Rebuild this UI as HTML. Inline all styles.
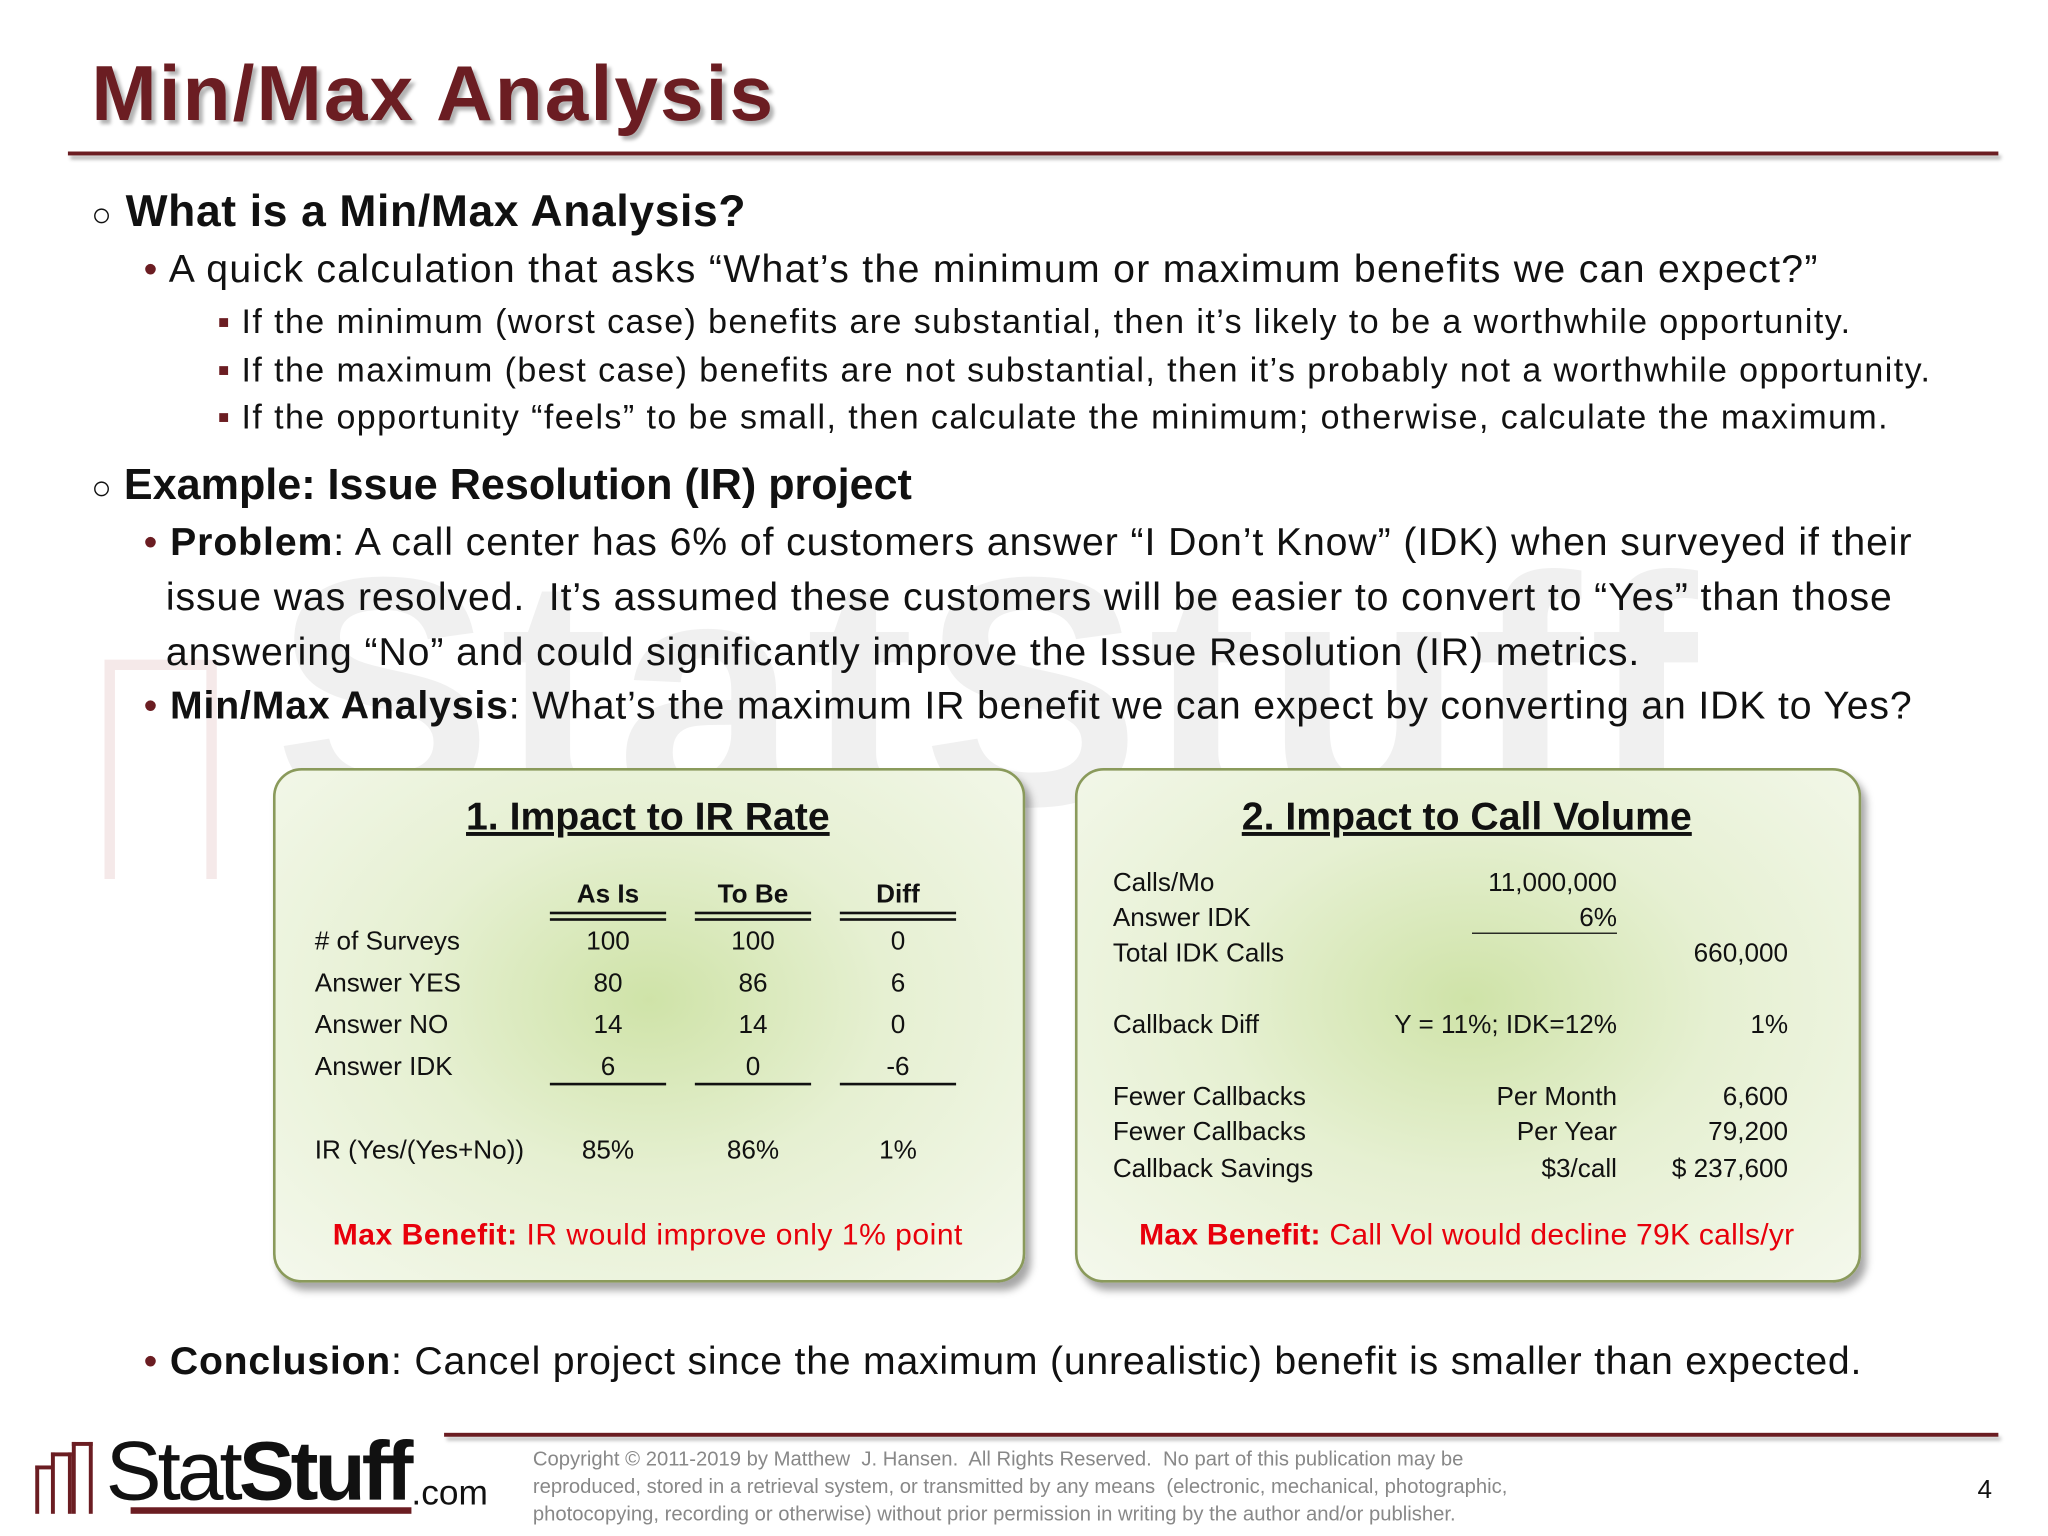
<!DOCTYPE html>
<html><head><meta charset="utf-8"><style>
html,body{margin:0;padding:0;background:#fff;width:2048px;height:1536px;overflow:hidden}
#s{position:absolute;left:0;top:0;width:1568px;height:1176px;transform:scale(1.306122);transform-origin:0 0;font-family:"Liberation Sans",sans-serif;color:#111}
.a{position:absolute;white-space:nowrap;line-height:1}
.box{position:absolute;border:2px solid #8a9a5b;border-radius:22px;background:radial-gradient(ellipse at 50% 45%,#cfe3a8 0%,#e6f0d2 45%,#f4f8ec 100%);box-shadow:4px 6px 6px rgba(0,0,0,.35)}
.t{font-size:20px}
.c{text-align:center}
.r{text-align:right}
.hl{position:absolute;height:0;border-top:2px solid #111}
.dl{position:absolute;height:3px;border-top:2px solid #111;border-bottom:2px solid #111}
.sb{font-size:26px;letter-spacing:1.1px}
.bl{font-size:30px;letter-spacing:1px}
.bl2{font-size:30px;letter-spacing:0.7px}
</style></head><body>
<div id="s">
<div class="a" style="left:210px;top:405px;font-size:250px;font-weight:bold;color:rgba(120,120,120,.11);letter-spacing:6px">StatStuff</div>
<div style="position:absolute;left:80px;top:505px;width:70px;height:160px;border:8px solid rgba(160,40,40,.10);border-bottom:none"></div>
<div class="a" style="left:70px;top:42px;font-size:60px;font-weight:bold;color:#6b1d22;letter-spacing:1.6px;text-shadow:3px 3px 3px rgba(0,0,0,.3)">Min/Max Analysis</div>
<div style="position:absolute;left:52px;top:116px;width:1478px;height:3px;background:#6b1d22;box-shadow:2px 3px 3px rgba(0,0,0,.3)"></div>

<div class="a" style="left:70px;top:145px;font-size:34px;font-weight:bold;letter-spacing:0.5px"><span style="font-weight:normal;font-size:26px">○</span> What is a Min/Max Analysis?</div>
<div class="a bl" style="left:110px;top:192px"><span style="color:#6b1d22">•</span> A quick calculation that asks “What’s the minimum or maximum benefits we can expect?”</div>
<div class="a sb" style="left:167px;top:233px"><span style="color:#6b1d22;font-size:14px;vertical-align:4px">■</span> If the minimum (worst case) benefits are substantial, then it’s likely to be a worthwhile opportunity.</div>
<div class="a sb" style="left:167px;top:270px"><span style="color:#6b1d22;font-size:14px;vertical-align:4px">■</span> If the maximum (best case) benefits are not substantial, then it’s probably not a worthwhile opportunity.</div>
<div class="a sb" style="left:167px;top:306px"><span style="color:#6b1d22;font-size:14px;vertical-align:4px">■</span> If the opportunity “feels” to be small, then calculate the minimum; otherwise, calculate the maximum.</div>

<div class="a" style="left:70px;top:354px;font-size:33px;font-weight:bold"><span style="font-weight:normal;font-size:26px">○</span> Example: Issue Resolution (IR) project</div>
<div class="a bl2" style="left:110px;top:395px;line-height:42px;white-space:nowrap"><span style="color:#6b1d22">•</span> <b>Problem</b>: A call center has 6% of customers answer “I Don’t Know” (IDK) when surveyed if their<br><span style="padding-left:17px">issue was resolved.&nbsp; It’s assumed these customers will be easier to convert to “Yes” than those</span><br><span style="padding-left:17px">answering “No” and could significantly improve the Issue Resolution (IR) metrics.</span></div>
<div class="a bl2" style="left:110px;top:526px;letter-spacing:0.65px"><span style="color:#6b1d22">•</span> <b>Min/Max Analysis</b>: What’s the maximum IR benefit we can expect by converting an IDK to Yes?</div>

<div class="box" style="left:209px;top:588px;width:572px;height:390px"></div>
<div class="a c" style="left:209px;top:611px;width:574px;font-size:30px;font-weight:bold;text-decoration:underline">1. Impact to IR Rate</div>
<div class="a c t" style="left:421px;top:675px;width:89px;font-weight:bold">As Is</div>
<div class="a c t" style="left:532px;top:675px;width:89px;font-weight:bold">To Be</div>
<div class="a c t" style="left:643px;top:675px;width:89px;font-weight:bold">Diff</div>
<div class="dl" style="left:421px;top:698px;width:89px"></div>
<div class="dl" style="left:532px;top:698px;width:89px"></div>
<div class="dl" style="left:643px;top:698px;width:89px"></div>

<div class="a t" style="left:241px;top:711px">#&nbsp;of Surveys</div>
<div class="a t" style="left:241px;top:743px">Answer YES</div>
<div class="a t" style="left:241px;top:775px">Answer NO</div>
<div class="a t" style="left:241px;top:807px">Answer IDK</div>
<div class="a t" style="left:241px;top:871px">IR (Yes/(Yes+No))</div>

<div class="a c t" style="left:421px;top:711px;width:89px">100</div>
<div class="a c t" style="left:532px;top:711px;width:89px">100</div>
<div class="a c t" style="left:643px;top:711px;width:89px">0</div>
<div class="a c t" style="left:421px;top:743px;width:89px">80</div>
<div class="a c t" style="left:532px;top:743px;width:89px">86</div>
<div class="a c t" style="left:643px;top:743px;width:89px">6</div>
<div class="a c t" style="left:421px;top:775px;width:89px">14</div>
<div class="a c t" style="left:532px;top:775px;width:89px">14</div>
<div class="a c t" style="left:643px;top:775px;width:89px">0</div>
<div class="a c t" style="left:421px;top:807px;width:89px">6</div>
<div class="a c t" style="left:532px;top:807px;width:89px">0</div>
<div class="a c t" style="left:643px;top:807px;width:89px">-6</div>
<div class="hl" style="left:421px;top:829px;width:89px"></div>
<div class="hl" style="left:532px;top:829px;width:89px"></div>
<div class="hl" style="left:643px;top:829px;width:89px"></div>
<div class="a c t" style="left:421px;top:871px;width:89px">85%</div>
<div class="a c t" style="left:532px;top:871px;width:89px">86%</div>
<div class="a c t" style="left:643px;top:871px;width:89px">1%</div>
<div class="a c" style="left:209px;top:934px;width:574px;font-size:23px;letter-spacing:0.4px;color:#e8000b"><b>Max Benefit:</b> IR would improve only 1% point</div>

<div class="box" style="left:823px;top:588px;width:598px;height:390px"></div>
<div class="a c" style="left:823px;top:611px;width:600px;font-size:30px;font-weight:bold;text-decoration:underline">2. Impact to Call Volume</div>
<div class="a t" style="left:852px;top:666px">Calls/Mo</div>
<div class="a t" style="left:852px;top:693px">Answer IDK</div>
<div class="a t" style="left:852px;top:720px">Total IDK Calls</div>
<div class="a t" style="left:852px;top:775px">Callback Diff</div>
<div class="a t" style="left:852px;top:830px">Fewer Callbacks</div>
<div class="a t" style="left:852px;top:857px">Fewer Callbacks</div>
<div class="a t" style="left:852px;top:885px">Callback Savings</div>
<div class="a r t" style="left:1038px;top:666px;width:200px">11,000,000</div>
<div class="a r t" style="left:1038px;top:693px;width:200px">6%</div>
<div class="hl" style="left:1127px;top:714px;width:111px;border-top-width:1.5px"></div>
<div class="a r t" style="left:1169px;top:720px;width:200px">660,000</div>
<div class="a r t" style="left:1000px;top:775px;width:238px">Y = 11%; IDK=12%</div>
<div class="a r t" style="left:1169px;top:775px;width:200px">1%</div>
<div class="a r t" style="left:1038px;top:830px;width:200px">Per Month</div>
<div class="a r t" style="left:1169px;top:830px;width:200px">6,600</div>
<div class="a r t" style="left:1038px;top:857px;width:200px">Per Year</div>
<div class="a r t" style="left:1169px;top:857px;width:200px">79,200</div>
<div class="a r t" style="left:1038px;top:885px;width:200px">$3/call</div>
<div class="a r t" style="left:1169px;top:885px;width:200px">$ 237,600</div>
<div class="a c" style="left:823px;top:934px;width:600px;font-size:23px;letter-spacing:0.2px;color:#e8000b"><b>Max Benefit:</b> Call Vol would decline 79K calls/yr</div>

<div class="a bl2" style="left:110px;top:1028px;letter-spacing:0.6px"><span style="color:#6b1d22">•</span> <b>Conclusion</b>: Cancel project since the maximum (unrealistic) benefit is smaller than expected.</div>

<div style="position:absolute;left:340px;top:1097px;width:1190px;height:3px;background:#6b1d22;box-shadow:2px 3px 3px rgba(0,0,0,.25)"></div>
<div style="position:absolute;left:25px;top:1098px;width:360px;height:64px">
  <div style="position:absolute;left:2px;top:24px;width:10px;height:34px;border:3px solid #6b1d22;border-bottom:none;border-right:none"></div>
  <div style="position:absolute;left:14px;top:14px;width:10px;height:44px;border:3px solid #6b1d22;border-bottom:none"></div>
  <div style="position:absolute;left:30px;top:6px;width:10px;height:52px;border:3px solid #6b1d22;border-bottom:none"></div>
  <div class="a" style="left:56px;top:-4px;font-size:64px;letter-spacing:-3px;color:#111">Stat<b>Stuff</b></div>
  <div style="position:absolute;left:75px;top:56px;width:215px;height:5px;background:#6b1d22"></div>
  <div class="a" style="left:290px;top:32px;font-size:27px;color:#111">.com</div>
</div>
<div class="a" style="left:408px;top:1107px;font-size:15.5px;line-height:21px;color:#888">Copyright © 2011-2019 by Matthew&nbsp; J. Hansen.&nbsp; All Rights Reserved.&nbsp; No part of this publication may be<br>reproduced, stored in a retrieval system, or transmitted by any means&nbsp; (electronic, mechanical, photographic,<br>photocopying, recording or otherwise) without prior permission in writing by the author and/or publisher.</div>
<div class="a" style="left:1514px;top:1131px;font-size:20px">4</div>
</div>
</body></html>
